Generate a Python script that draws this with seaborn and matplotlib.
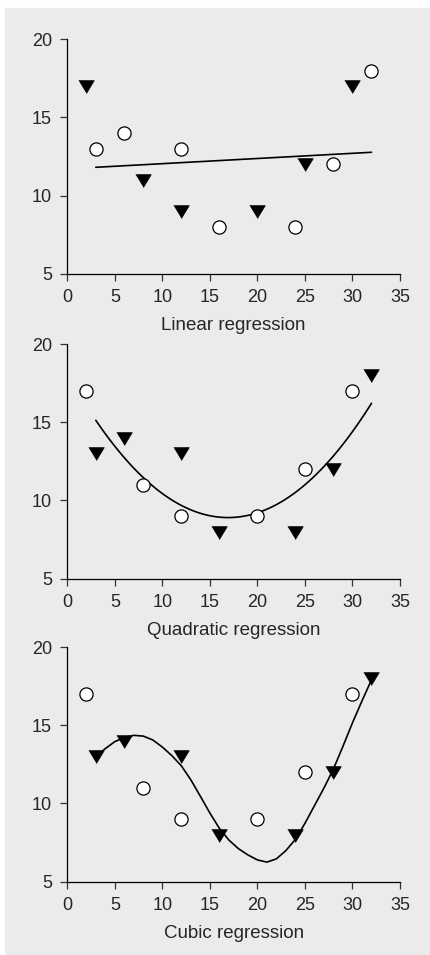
import numpy as np
import pandas as pd
from matplotlib import pyplot as plt
import seaborn as sns

###############################################################################
# DATA
###############################################################################
# group A: triangles in the first panel, circles in the other two
group_a_x = [2, 8, 12, 20, 25, 30]
group_a_y = [17, 11, 9, 9, 12, 17]
# group B: circles in the first panel, triangles in the other two
group_b_x = [3, 6, 12, 16, 24, 28, 32]
group_b_y = [13, 14, 13, 8, 8, 12, 18]

# the "cubic" curve is not an exact least-squares cubic, so it is read off
# the picture point by point
cubic_curve_x = [3, 4, 5, 6, 7, 8, 9, 10, 11, 12, 13, 14, 15, 16, 17, 18, 19,
                 20, 21, 22, 23, 24, 25, 26, 27, 28, 29, 30, 31, 32]
cubic_curve_y = [13.0, 13.5, 13.95, 14.2, 14.35, 14.3, 14.05, 13.6, 13.05,
                 12.4, 11.5, 10.45, 9.38, 8.4, 7.65, 7.1, 6.7, 6.38, 6.24,
                 6.45, 6.98, 7.7, 8.72, 9.85, 10.98, 12.2, 13.65, 15.15,
                 16.55, 17.9]

titles = ["Linear regression", "Quadratic regression", "Cubic regression"]
orders = [1, 2, 3]
x_ticks = [0, 5, 10, 15, 20, 25, 30, 35]
y_ticks = [5, 10, 15, 20]

df_a = pd.DataFrame({"x": group_a_x, "y": group_a_y})
df_b = pd.DataFrame({"x": group_b_x, "y": group_b_y})
df_cubic = pd.DataFrame({"x": cubic_curve_x, "y": cubic_curve_y})

###############################################################################
# PLOT
###############################################################################
sns.set_style("ticks")
plt.rcParams["font.family"] = ["Liberation Sans", "DejaVu Sans"]
bg = "#ebebeb"
ink = "#262626"
tri_marker = [(-1, 0.75), (1, 0.75), (0, -0.9)]

fig = plt.figure(figsize=(4.31, 9.55), dpi=100, facecolor="white")
# grey panel behind everything
fig.patches.append(plt.Rectangle((5 / 431, 1 / 955), 426 / 431, 946 / 955,
                                 transform=fig.transFigure, color=bg, zorder=-10))

tops = [39.3, 344, 647]
for i, (title, order) in enumerate(zip(titles, orders)):
    h = 234.5 / 955
    top = 1 - tops[i] / 955
    ax = fig.add_axes([67.3 / 431, top - h, 332.7 / 431, h])
    ax.set_facecolor("none")

    # in the first panel the triangles are group A, afterwards the circles are
    tri, circ = (df_a, df_b) if i == 0 else (df_b, df_a)

    if order < 3:
        sns.regplot(data=df_b, x="x", y="y", order=order, ci=None, scatter=False,
                    truncate=True, ax=ax, line_kws={"color": "black", "lw": 1.2})
    else:
        sns.lineplot(data=df_cubic, x="x", y="y", color="black", lw=1.2, ax=ax)
    sns.scatterplot(data=tri, x="x", y="y", marker=tri_marker, s=125,
                    color="black", edgecolor="black", linewidth=0.5, ax=ax,
                    zorder=3)
    sns.scatterplot(data=circ, x="x", y="y", marker="o", s=90, color="white",
                    edgecolor="black", linewidth=0.9, ax=ax, zorder=3)

    ax.set_xlim(0, 35)
    ax.set_ylim(5, 20)
    ax.set_xticks(x_ticks)
    ax.set_yticks(y_ticks)
    ax.set_xlabel(title, fontsize=13.5, color=ink, labelpad=8)
    ax.set_ylabel("")
    ax.tick_params(labelsize=13, labelcolor=ink, color="#333333", length=5,
                   width=0.9)
    ax.tick_params(axis="x", pad=6)
    ax.tick_params(axis="y", pad=6)
    for s in ["top", "right"]:
        ax.spines[s].set_visible(False)
    for s in ["left", "bottom"]:
        ax.spines[s].set_linewidth(0.9)
        ax.spines[s].set_color("black")

fig.savefig("out.png", dpi=100, facecolor="white")
